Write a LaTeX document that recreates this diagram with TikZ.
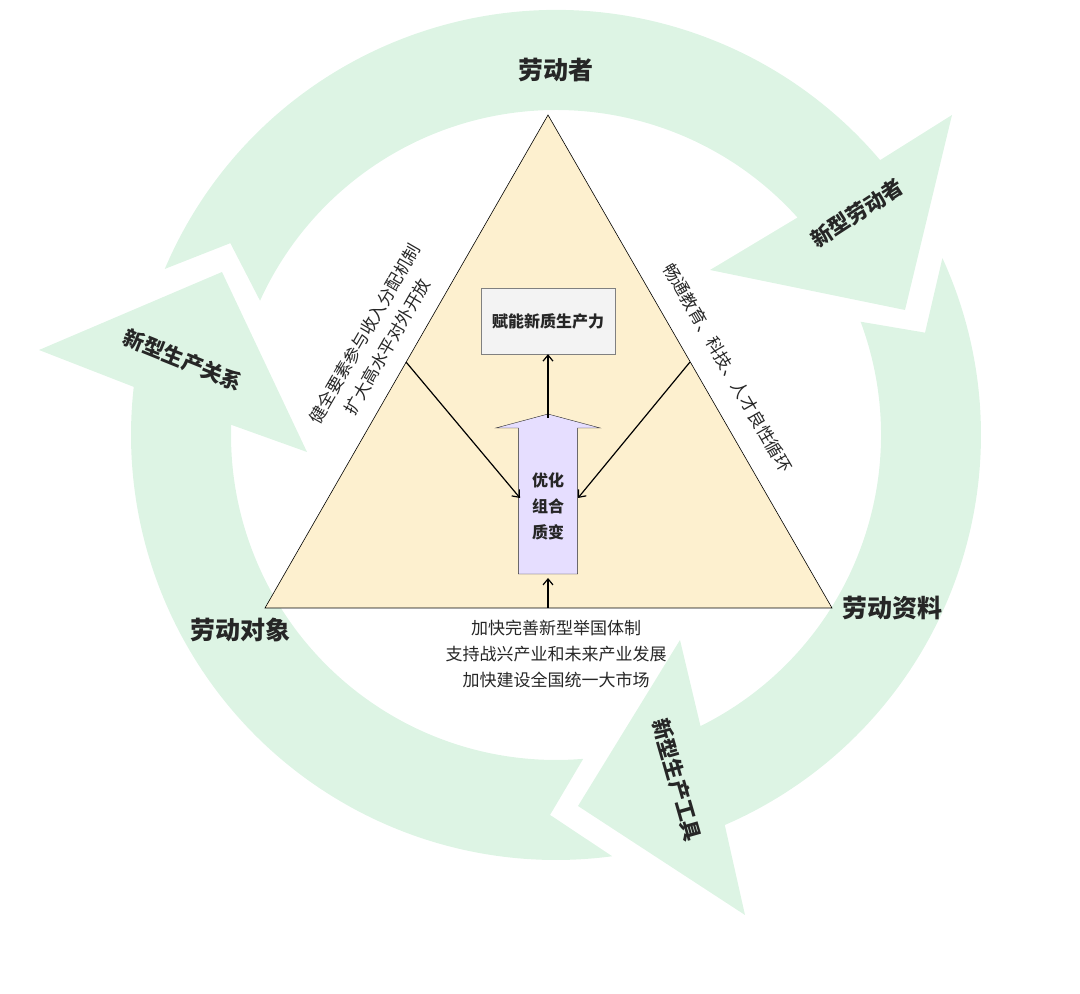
\documentclass[tikz,border=0pt]{standalone}
\usepackage{fontspec}
\setmainfont{Noto Sans CJK SC}
\usetikzlibrary{arrows.meta,shapes.arrows}
\definecolor{ringgreen}{HTML}{DDF4E4}
\definecolor{triyellow}{HTML}{FDF0CF}
\definecolor{boxgrey}{HTML}{F3F3F3}
\definecolor{arrowlilac}{HTML}{E6DEFF}
\definecolor{textdark}{HTML}{262626}
\tikzset{
    ring/.style={fill=ringgreen,draw=none},
    bigtitle/.style={font=\fontsize{25}{28}\selectfont\bfseries,text=textdark},
    ringtitle/.style={font=\fontsize{21}{24}\selectfont\bfseries,text=textdark},
    note/.style={font=\fontsize{17}{26}\selectfont,text=textdark,align=center},
    flow/.style={-{Straight Barb[length=6pt,width=10pt]},line width=1.2pt}
}
\begin{document}
\begin{tikzpicture}[x=1pt,y=1pt]
  \useasboundingbox (0,0) rectangle (1080,994);

  % ring of three arrows
  \begin{scope}[shift={(556,559)}]
  \fill[ring] (157:425) arc[start angle=157,end angle=40.3,radius=425]
    -- (396,320) -- (349,125) -- (154,165)
    -- (42:325) arc[start angle=42,end angle=155.6,radius=325]
    -- (149.5:378) -- cycle;
  \fill[ring] (24.6:425) arc[start angle=24.6,end angle=-66.6,radius=425]
    -- (189,-480) -- (22,-371) -- (124,-205)
    -- (-63.6:325) arc[start angle=-63.6,end angle=20.4,radius=325]
    -- (15.5:383) -- cycle;
  \fill[ring] (-82.4:425) arc[start angle=-82.4,end angle=-186.5,radius=425]
    -- (-517,85) -- (-334,163) -- (-249,-17)
    -- (178.2:325) arc[start angle=-181.8,end angle=-85.2,radius=325]
    -- (-90.9:380) -- cycle;
  \end{scope}

  % triangle
  \draw[fill=triyellow,line width=0.6pt] (548,879) -- (265,386) -- (832,386) -- cycle;
  \coordinate (base) at (548,386);
  \coordinate (leftedge) at (406,632);
  \coordinate (rightedge) at (690,632);

  \node[draw=gray,fill=boxgrey,minimum width=134pt,minimum height=66pt,
        font=\fontsize{16}{20}\selectfont\bfseries,text=textdark] (goal) at (548,673) {赋能新质生产力};
  \node[single arrow,shape border rotate=90,draw=textdark,fill=arrowlilac,
        minimum width=104pt,minimum height=160pt,single arrow head extend=22pt,
        single arrow tip angle=150,inner sep=0pt,text width=58pt,align=center] (core) at (548,496) {};
  \node[font=\fontsize{16}{26}\selectfont\bfseries,text=textdark,align=center] (coretext) at (548,488) {优化\\组合\\质变};
  \coordinate (coretop) at (548,576);
  \coordinate (corebot) at (548,416);

  \draw[flow] (coretop) -- (goal.south);
  \draw[flow] (base) -- (corebot);
  \draw[flow] (leftedge) -- (520,496);
  \draw[flow] (rightedge) -- (578,496);

  % labels
  \node[bigtitle] (worker) at (556,924) {劳动者};
  \node[bigtitle] (means) at (892,386) {劳动资料};
  \node[bigtitle] (object) at (240,364) {劳动对象};
  \node[ringtitle,rotate=33] (newworker) at (857,781) {新型劳动者};
  \node[ringtitle,rotate=-22] (newrel) at (183,634) {新型生产关系};
  \node[ringtitle,rotate=-74] (newtool) at (677,214) {新型生产工具};

  \node[note,rotate=60] (lefttext) at (376,654) {健全要素参与收入分配机制\\扩大高水平对外开放};
  \node[note,rotate=-60,font=\fontsize{17}{20}\selectfont] (righttext) at (728,626) {畅通教育、科技、人才良性循环};
  \node[note] (basetext) at (556,340) {加快完善新型举国体制\\支持战兴产业和未来产业发展\\加快建设全国统一大市场};
\end{tikzpicture}
\end{document}
